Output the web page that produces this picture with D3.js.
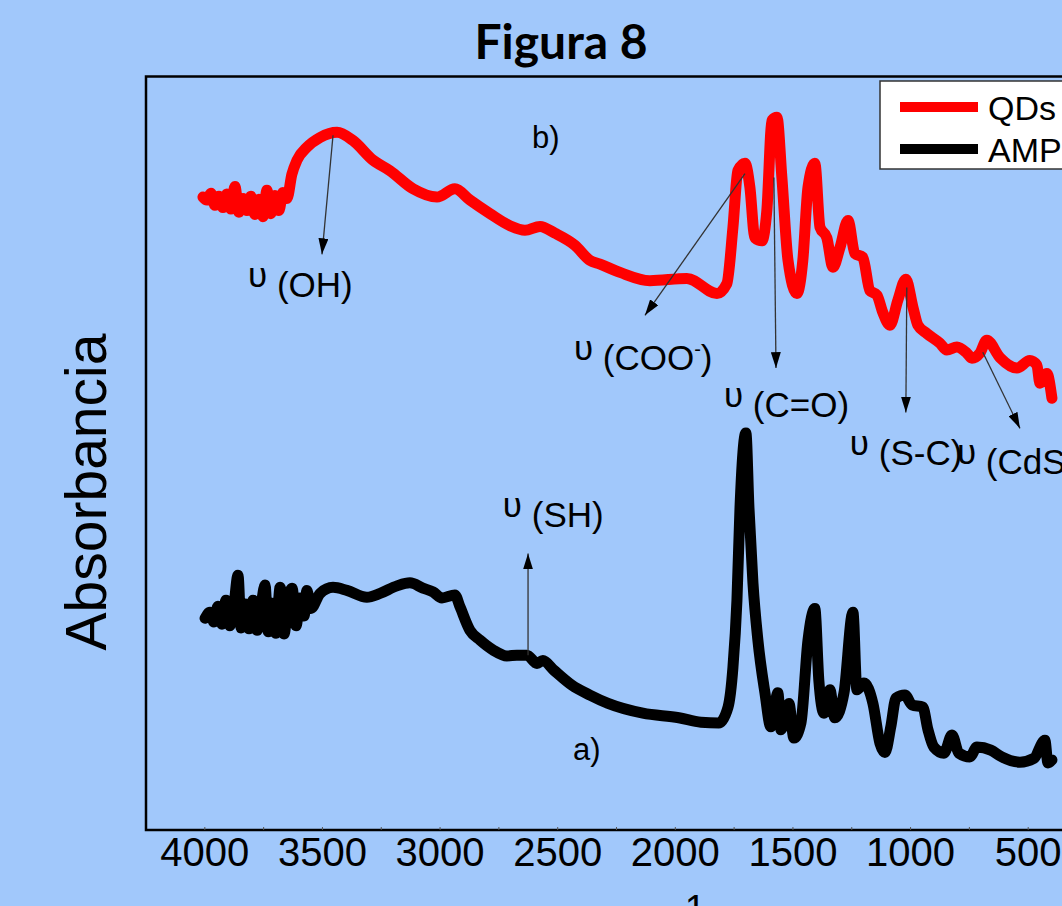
<!DOCTYPE html>
<html>
<head>
<meta charset="utf-8">
<script src="https://cdn.jsdelivr.net/npm/d3@7"></script>
<style>
  body { margin: 0; background: #a1c8fb; }
  svg { display: block; }
</style>
</head>
<body>
<div id="chart"></div>
<script>
// QDs spectrum (red, curve b)
var qdsWavenumber = [4008, 3991, 3974, 3957, 3940, 3923, 3906, 3889, 3872, 3855, 3838, 3821, 3804, 3787, 3770, 3753, 3736, 3719, 3702, 3685, 3668, 3651,
  3630, 3608, 3566, 3510, 3438, 3370, 3285, 3213, 3115, 3013, 2937, 2873, 2788, 2703, 2639, 2575, 2512, 2427, 2363, 2320, 2235, 2108, 1951, 1823, 1781,
  1755, 1734, 1704, 1683, 1662, 1632, 1611, 1589, 1568, 1547, 1521, 1483, 1458, 1436, 1407, 1385, 1356, 1330, 1300, 1266, 1237, 1203, 1173, 1143,
  1118, 1088, 1054, 1020, 990, 969, 931, 875, 846, 803, 761, 739, 705, 676, 620, 548, 493, 463, 450, 421, 399];
var qdsAbsorbance = [0.840, 0.836, 0.845, 0.829, 0.841, 0.826, 0.844, 0.824, 0.854, 0.820, 0.838, 0.822, 0.841, 0.817, 0.837, 0.814, 0.849, 0.818, 0.842, 0.822, 0.846, 0.838,
  0.870, 0.889, 0.906, 0.919, 0.926, 0.915, 0.889, 0.875, 0.851, 0.840, 0.851, 0.836, 0.818, 0.802, 0.796, 0.801, 0.792, 0.776, 0.756, 0.751, 0.740, 0.729, 0.732, 0.712, 0.725,
  0.800, 0.875, 0.885, 0.853, 0.786, 0.782, 0.822, 0.942, 0.946, 0.866, 0.756, 0.712, 0.756, 0.853, 0.885, 0.800, 0.786, 0.747, 0.773, 0.809, 0.765, 0.760, 0.716, 0.710,
  0.687, 0.670, 0.703, 0.731, 0.694, 0.670, 0.659, 0.646, 0.637, 0.641, 0.633, 0.626, 0.633, 0.650, 0.627, 0.613, 0.623, 0.617, 0.593, 0.606, 0.573];

// AMP spectrum (black, curve a)
var ampWavenumber = [3999, 3978, 3961, 3944, 3927, 3910, 3893, 3876, 3859, 3846, 3829, 3812, 3795, 3778, 3761, 3744, 3731, 3714, 3697, 3680, 3663, 3646, 3629, 3612, 3595, 3578, 3566, 3549,
  3510, 3455, 3396, 3311, 3255, 3183, 3128, 3073, 3030, 2992, 2937, 2915, 2873, 2830, 2775, 2716, 2673, 2631, 2588, 2563, 2516, 2439, 2363, 2286, 2138, 1985, 1891, 1815,
  1776, 1755, 1738, 1725, 1700, 1687, 1670, 1649, 1619, 1594, 1564, 1551, 1517, 1496, 1466, 1436, 1407, 1390, 1368, 1343, 1322, 1283, 1245, 1228, 1198, 1160, 1130, 1109,
  1084, 1062, 1024, 994, 948, 926, 901, 858, 824, 795, 748, 718, 659, 612, 535, 476, 429, 416, 399];
var ampAbsorbance = [0.281, 0.289, 0.276, 0.297, 0.273, 0.305, 0.271, 0.298, 0.338, 0.268, 0.300, 0.267, 0.305, 0.265, 0.297, 0.325, 0.263, 0.301, 0.261, 0.322, 0.260, 0.305, 0.321, 0.271, 0.308, 0.284, 0.318, 0.294,
  0.314, 0.322, 0.318, 0.309, 0.314, 0.324, 0.328, 0.321, 0.316, 0.308, 0.312, 0.296, 0.265, 0.252, 0.239, 0.231, 0.232, 0.232, 0.221, 0.225, 0.212, 0.192, 0.179, 0.168, 0.155, 0.149, 0.143, 0.142,
  0.163, 0.216, 0.305, 0.428, 0.527, 0.428, 0.328, 0.252, 0.182, 0.137, 0.182, 0.133, 0.168, 0.122, 0.142, 0.252, 0.294, 0.199, 0.155, 0.186, 0.149, 0.182, 0.289, 0.186, 0.195, 0.168, 0.115, 0.103,
  0.137, 0.175, 0.179, 0.166, 0.163, 0.133, 0.110, 0.102, 0.126, 0.102, 0.097, 0.110, 0.106, 0.097, 0.090, 0.095, 0.119, 0.089, 0.093];

var tickValues = [4000, 3500, 3000, 2500, 2000, 1500, 1000, 500];
var minorTicks = [4000, 3750, 3500, 3250, 3000, 2750, 2500, 2250, 2000, 1750, 1500, 1250, 1000, 750, 500];

// band assignments: arrow start / tip and label anchor, in data units
var bands = [
  { name: "(OH)", sup: "", x1: 3455, y1: 0.922, x2: 3502, y2: 0.764, lx: 3816, ly: 0.708 },
  { name: "(COO", sup: "-", x1: 1704, y1: 0.871, x2: 2129, y2: 0.683, lx: 2431, ly: 0.610 },
  { name: "(C=O)", sup: "", x1: 1581, y1: 0.866, x2: 1572, y2: 0.613, lx: 1793, ly: 0.548 },
  { name: "(S-C)", sup: "", x1: 1016, y1: 0.720, x2: 1020, y2: 0.554, lx: 1258, ly: 0.484 },
  { name: "(CdS)", sup: "", x1: 693, y1: 0.634, x2: 535, y2: 0.533, lx: 803, ly: 0.473 },
  { name: "(SH)", sup: "", x1: 2626, y1: 0.232, x2: 2626, y2: 0.367, lx: 2733, ly: 0.402 }
];
var curveLabels = [
  { text: "b)", x: 2609, y: 0.905 },
  { text: "a)", x: 2435, y: 0.093 }
];

var width = 1062, height = 906;
var svg = d3.select("#chart").append("svg")
  .attr("width", width)
  .attr("height", height)
  .style("font-family", "'Liberation Sans', Arial, sans-serif");

svg.append("rect").attr("width", width).attr("height", height).attr("fill", "#a1c8fb");

var x = d3.scaleLinear().domain([4250, 250]).range([146, 1087]);
var y = d3.scaleLinear().domain([0, 1]).range([830, 76.5]);

// title
svg.append("text")
  .attr("x", 561).attr("y", 59)
  .attr("text-anchor", "middle")
  .style("font-family", "Lato, 'Open Sans', sans-serif")
  .style("font-weight", "bold")
  .style("font-size", "48px")
  .text("Figura 8");

// frame
svg.append("rect")
  .attr("x", x(4250)).attr("y", y(1))
  .attr("width", x(250) - x(4250)).attr("height", y(0) - y(1))
  .attr("fill", "none").attr("stroke", "#000").attr("stroke-width", 2.5);

// small inner ticks
svg.selectAll(".mtick").data(minorTicks).enter().append("line")
  .attr("x1", function(d) { return x(d); }).attr("x2", function(d) { return x(d); })
  .attr("y1", y(0)).attr("y2", y(0) - 3)
  .attr("stroke", "#555").attr("stroke-width", 1);

// x tick labels
svg.selectAll(".tlabel").data(tickValues).enter().append("text")
  .attr("x", function(d) { return x(d); })
  .attr("y", 866)
  .attr("text-anchor", "middle")
  .style("font-size", "40px")
  .text(function(d) { return d; });

// x axis title (only the superscript shows inside the picture)
svg.append("text")
  .attr("x", 706).attr("y", 922)
  .attr("text-anchor", "end")
  .style("font-size", "38px")
  .text("-1");

// y axis title
svg.append("text")
  .attr("transform", "translate(106,492) rotate(-90)")
  .attr("text-anchor", "middle")
  .style("font-size", "57px")
  .text("Absorbancia");

var line = d3.line()
  .curve(d3.curveMonotoneX)
  .x(function(d) { return x(d[0]); })
  .y(function(d) { return y(d[1]); });

var ampData = d3.zip(ampWavenumber, ampAbsorbance);
var qdsData = d3.zip(qdsWavenumber, qdsAbsorbance);

svg.append("path").datum(ampData)
  .attr("d", line)
  .attr("fill", "none").attr("stroke", "#000")
  .attr("stroke-width", 11).attr("stroke-linejoin", "round").attr("stroke-linecap", "round");

svg.append("path").datum(qdsData)
  .attr("d", line)
  .attr("fill", "none").attr("stroke", "#ff0000")
  .attr("stroke-width", 11).attr("stroke-linejoin", "round").attr("stroke-linecap", "round");

// arrows
svg.append("defs").append("marker")
  .attr("id", "arrow")
  .attr("viewBox", "0 0 16 10")
  .attr("refX", 16).attr("refY", 5)
  .attr("markerWidth", 16).attr("markerHeight", 10)
  .attr("markerUnits", "userSpaceOnUse")
  .attr("orient", "auto")
  .append("path").attr("d", "M0,0 L16,5 L0,10 Z").attr("fill", "#000");

svg.selectAll(".arrow").data(bands).enter().append("line")
  .attr("x1", function(d) { return x(d.x1); }).attr("y1", function(d) { return y(d.y1); })
  .attr("x2", function(d) { return x(d.x2); }).attr("y2", function(d) { return y(d.y2); })
  .attr("stroke", "#333").attr("stroke-width", 1.3)
  .attr("marker-end", "url(#arrow)");

var lbl = svg.selectAll(".blabel").data(bands).enter().append("text")
  .attr("x", function(d) { return x(d.lx); })
  .attr("y", function(d) { return y(d.ly); })
  .style("font-size", "35px");
lbl.append("tspan").attr("dy", -10).text("\u03c5");
lbl.append("tspan").attr("dy", 10).text(function(d) { return " " + d.name; });
lbl.filter(function(d) { return d.sup; }).append("tspan")
  .attr("dy", -14).style("font-size", "20px").text(function(d) { return d.sup; });
lbl.filter(function(d) { return d.sup; }).append("tspan")
  .attr("dy", 14).text(")");

svg.selectAll(".clabel").data(curveLabels).enter().append("text")
  .attr("x", function(d) { return x(d.x); })
  .attr("y", function(d) { return y(d.y); })
  .style("font-size", "31px")
  .text(function(d) { return d.text; });

// legend
var legend = svg.append("g");
legend.append("rect")
  .attr("x", 880).attr("y", 81).attr("width", 230).attr("height", 88)
  .attr("fill", "#fff").attr("stroke", "#333").attr("stroke-width", 1.5);
var legItems = [{ name: "QDs", color: "#ff0000" }, { name: "AMP", color: "#000" }];
legItems.forEach(function(d, i) {
  var cy = 107 + i * 42;
  legend.append("line")
    .attr("x1", 900).attr("x2", 978).attr("y1", cy).attr("y2", cy)
    .attr("stroke", d.color).attr("stroke-width", 10);
  legend.append("text")
    .attr("x", 988).attr("y", cy + 13)
    .style("font-size", "34px")
    .text(d.name);
});
</script>
</body>
</html>
